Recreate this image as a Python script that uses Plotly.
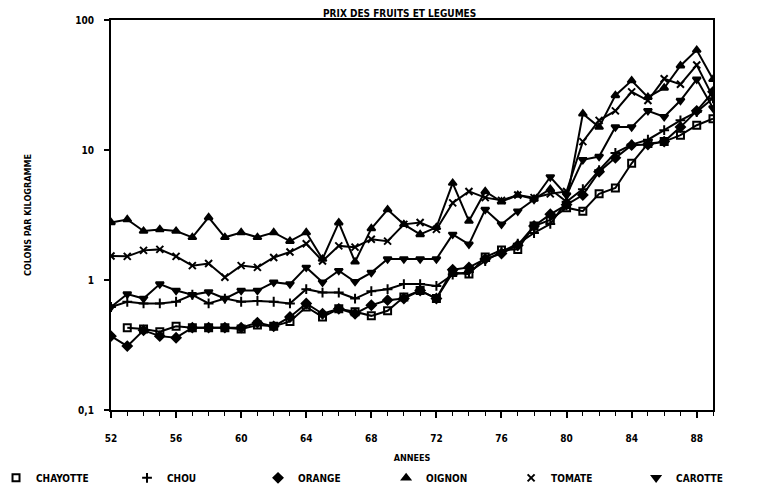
import plotly.graph_objects as go

years = list(range(52, 90))

chayotte = [None, 0.43, 0.42, 0.40, 0.44, 0.43, 0.43, 0.43, 0.42, 0.45, 0.44, 0.48,
            0.62, 0.52, 0.60, 0.57, 0.53, 0.58, 0.74, 0.83, 0.72, 1.14, 1.11, 1.50,
            1.70, 1.72, 2.60, 2.90, 3.60, 3.38, 4.60, 5.10, 7.90, 11.2, 11.6, 13.0,
            15.5, 17.4]
chou = [0.62, 0.68, 0.66, 0.66, 0.68, 0.77, 0.66, 0.72, 0.68, 0.69, 0.68, 0.66,
        0.85, 0.80, 0.80, 0.72, 0.82, 0.85, 0.93, 0.93, 0.90, 1.10, 1.15, 1.40,
        1.65, 1.90, 2.30, 2.70, 4.00, 5.00, 7.00, 9.50, 11.0, 12.0, 14.2, 16.9,
        19.6, 25.0]
orange = [0.37, 0.31, 0.41, 0.37, 0.36, 0.43, 0.43, 0.43, 0.43, 0.47, 0.44, 0.52,
          0.66, 0.55, 0.60, 0.55, 0.64, 0.70, 0.72, 0.83, 0.72, 1.20, 1.25, 1.45,
          1.60, 1.85, 2.60, 3.20, 3.80, 4.50, 6.80, 8.70, 10.9, 11.0, 11.6, 15.0,
          20.0, 28.0]
oignon = [2.77, 2.92, 2.38, 2.45, 2.38, 2.13, 3.03, 2.13, 2.32, 2.13, 2.32, 1.99,
          2.32, 1.45, 2.76, 1.38, 2.49, 3.48, 2.68, 2.24, 2.54, 5.57, 2.84, 4.80,
          4.00, 4.50, 4.20, 5.00, 4.00, 19.0, 15.0, 26.3, 34.2, 25.5, 30.0, 44.5,
          58.7, 35.0]
tomate = [1.53, 1.52, 1.69, 1.72, 1.52, 1.29, 1.34, 1.05, 1.29, 1.25, 1.49, 1.64,
          1.90, 1.40, 1.83, 1.79, 2.06, 1.99, 2.68, 2.77, 2.45, 3.92, 4.80, 4.30,
          4.10, 4.50, 4.30, 4.60, 4.80, 11.6, 16.9, 20.0, 28.0, 24.0, 35.3, 32.0,
          45.0, 25.5]
carotte = [0.62, 0.78, 0.72, 0.93, 0.83, 0.77, 0.81, 0.72, 0.83, 0.83, 0.96, 0.93,
           1.25, 0.96, 1.18, 0.97, 1.14, 1.45, 1.45, 1.45, 1.45, 2.24, 1.88, 3.48,
           2.68, 3.38, 4.15, 6.20, 4.50, 8.40, 8.90, 15.0, 15.0, 20.0, 18.0, 24.0,
           35.0, 21.0]

names = ["CHAYOTTE", "CHOU", "ORANGE", "OIGNON", "TOMATE", "CAROTTE"]
series = [chayotte, chou, orange, oignon, tomate, carotte]
symbols = ["square-open", "cross-thin", "diamond", "triangle-up", "x-thin", "triangle-down"]
legend_ids = ["legend", "legend", "legend", "legend2", "legend2", "legend2"]

x_ticks = [52, 56, 60, 64, 68, 72, 76, 80, 84, 88]
y_ticks = [0.1, 1, 10, 100]
y_ticktext = ["0,1", "1", "10", "100"]

FONT = "DejaVu Sans Condensed, Liberation Sans Narrow, Arial Narrow, sans-serif"

fig = go.Figure()
for name, vals, sym, lg in zip(names, series, symbols, legend_ids):
    fig.add_trace(go.Scatter(
        x=years, y=vals, mode="lines+markers", name=name, legendgroup=name,
        showlegend=False, connectgaps=False,
        line=dict(color="black", width=2),
        marker=dict(symbol=sym, size=7, color="black",
                    line=dict(color="black", width=2)),
    ))
    fig.add_trace(go.Scatter(
        x=[None], y=[None], mode="markers", name=name, legendgroup=name,
        showlegend=True, legend=lg,
        marker=dict(symbol=sym, size=7, color="black",
                    line=dict(color="black", width=2)),
    ))

legend_common = dict(orientation="h", yanchor="middle", y=-0.174,
                     entrywidthmode="pixels", xanchor="left",
                     font=dict(size=10, family=FONT, weight="bold"),
                     bgcolor="rgba(0,0,0,0)")

fig.update_layout(
    width=759, height=497,
    margin=dict(l=103, r=54, t=12, b=95, autoexpand=False),
    paper_bgcolor="white", plot_bgcolor="white",
    font=dict(family=FONT, color="black", size=10, weight="bold"),
    title=dict(text="PRIX DES FRUITS ET LEGUMES", x=0.516, xanchor="center",
               y=0.997, yanchor="top", font=dict(size=10, family=FONT, weight="bold")),
    showlegend=True,
    legend=dict(legend_common, x=-0.191, entrywidth=86),
    legend2=dict(legend_common, x=0.457, entrywidth=80),
)

fig.update_xaxes(
    range=[52, 89], tickvals=x_ticks, ticks="outside", ticklen=6, tickwidth=2,
    tickcolor="black", showgrid=False, zeroline=False,
    showline=True, linecolor="black", linewidth=2, mirror=True,
    minor=dict(dtick=1, ticks="outside", ticklen=4, tickcolor="black", tickwidth=1),
    ticklabelstandoff=12,
    title=dict(text="ANNEES", standoff=12, font=dict(size=9, family=FONT, weight="bold")),
    tickfont=dict(size=10, family=FONT, weight="bold"),
)
fig.update_yaxes(
    type="log", range=[-1, 2], tickvals=y_ticks, ticktext=y_ticktext,
    ticks="outside", ticklen=5, tickwidth=2, tickcolor="black",
    showgrid=False, zeroline=False,
    showline=True, linecolor="black", linewidth=2, mirror=True,
    ticklabelstandoff=8,
    title=dict(text="COLONS PAR KILOGRAMME", standoff=42,
               font=dict(size=9, family=FONT, weight="bold")),
    tickfont=dict(size=10, family=FONT, weight="bold"),
)

fig.write_html("out.html")
